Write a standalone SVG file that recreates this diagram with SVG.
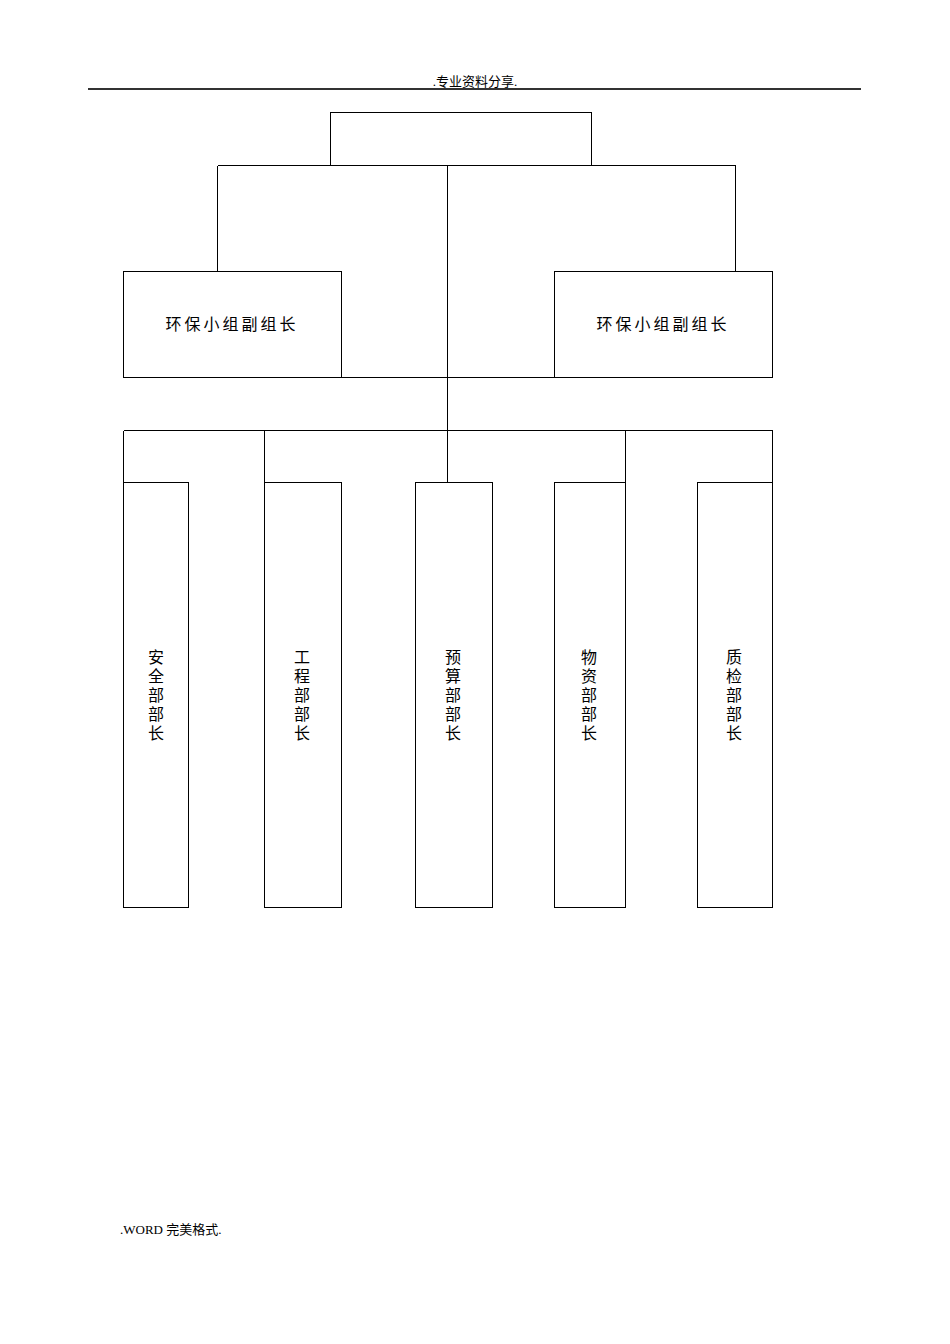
<svg xmlns="http://www.w3.org/2000/svg" width="950" height="1344" viewBox="0 0 950 1344">
<style>
.box{fill:#fff;stroke:#000;stroke-width:1;shape-rendering:crispEdges}
.ln{fill:none;stroke:#000;stroke-width:1;shape-rendering:crispEdges}
.t{font-family:"Liberation Serif","Noto Sans CJK SC",serif;font-size:16px;fill:#000}
.h{font-family:"Liberation Serif","Noto Sans CJK SC",serif;font-size:13px;fill:#000}
</style>
<rect width="950" height="1344" fill="#fff"/>
<text class="h" x="475" y="86" text-anchor="middle">.专业资料分享.</text>
<line x1="88" y1="89" x2="861" y2="89" stroke="#333" stroke-width="2" shape-rendering="crispEdges"/>
<g id="connectors">
<path class="ln" d="M217.5,165.5 H735.5 M217.5,165.5 V271 M735.5,165.5 V271 M447.5,165.5 V482 M123.5,377.5 H772.5 M123.5,430.5 H772.5 M123.5,430.5 V482 M264.5,430.5 V482 M625.5,430.5 V482 M772.5,430.5 V482"/>
</g>
<g id="top"><rect class="box" x="330.5" y="112.5" width="261" height="53"/></g>
<g id="vice1"><rect class="box" x="123.5" y="271.5" width="218" height="106"/><text class="t" x="232" y="330" text-anchor="middle" letter-spacing="3">环保小组副组长</text></g>
<g id="vice2"><rect class="box" x="554.5" y="271.5" width="218" height="106"/><text class="t" x="663" y="330" text-anchor="middle" letter-spacing="3">环保小组副组长</text></g>
<g id="d1"><rect class="box" x="123.5" y="482.5" width="65" height="425"/>
<text class="t" text-anchor="middle"><tspan x="156" y="663">安</tspan><tspan x="156" y="682">全</tspan><tspan x="156" y="701">部</tspan><tspan x="156" y="720">部</tspan><tspan x="156" y="739">长</tspan></text></g>
<g id="d2"><rect class="box" x="264.5" y="482.5" width="77" height="425"/>
<text class="t" text-anchor="middle"><tspan x="302" y="663">工</tspan><tspan x="302" y="682">程</tspan><tspan x="302" y="701">部</tspan><tspan x="302" y="720">部</tspan><tspan x="302" y="739">长</tspan></text></g>
<g id="d3"><rect class="box" x="415.5" y="482.5" width="77" height="425"/>
<text class="t" text-anchor="middle"><tspan x="453" y="663">预</tspan><tspan x="453" y="682">算</tspan><tspan x="453" y="701">部</tspan><tspan x="453" y="720">部</tspan><tspan x="453" y="739">长</tspan></text></g>
<g id="d4"><rect class="box" x="554.5" y="482.5" width="71" height="425"/>
<text class="t" text-anchor="middle"><tspan x="589" y="663">物</tspan><tspan x="589" y="682">资</tspan><tspan x="589" y="701">部</tspan><tspan x="589" y="720">部</tspan><tspan x="589" y="739">长</tspan></text></g>
<g id="d5"><rect class="box" x="697.5" y="482.5" width="75" height="425"/>
<text class="t" text-anchor="middle"><tspan x="734" y="663">质</tspan><tspan x="734" y="682">检</tspan><tspan x="734" y="701">部</tspan><tspan x="734" y="720">部</tspan><tspan x="734" y="739">长</tspan></text></g>
<text class="h" x="120" y="1234" font-size="14">.WORD 完美格式.</text>
</svg>
